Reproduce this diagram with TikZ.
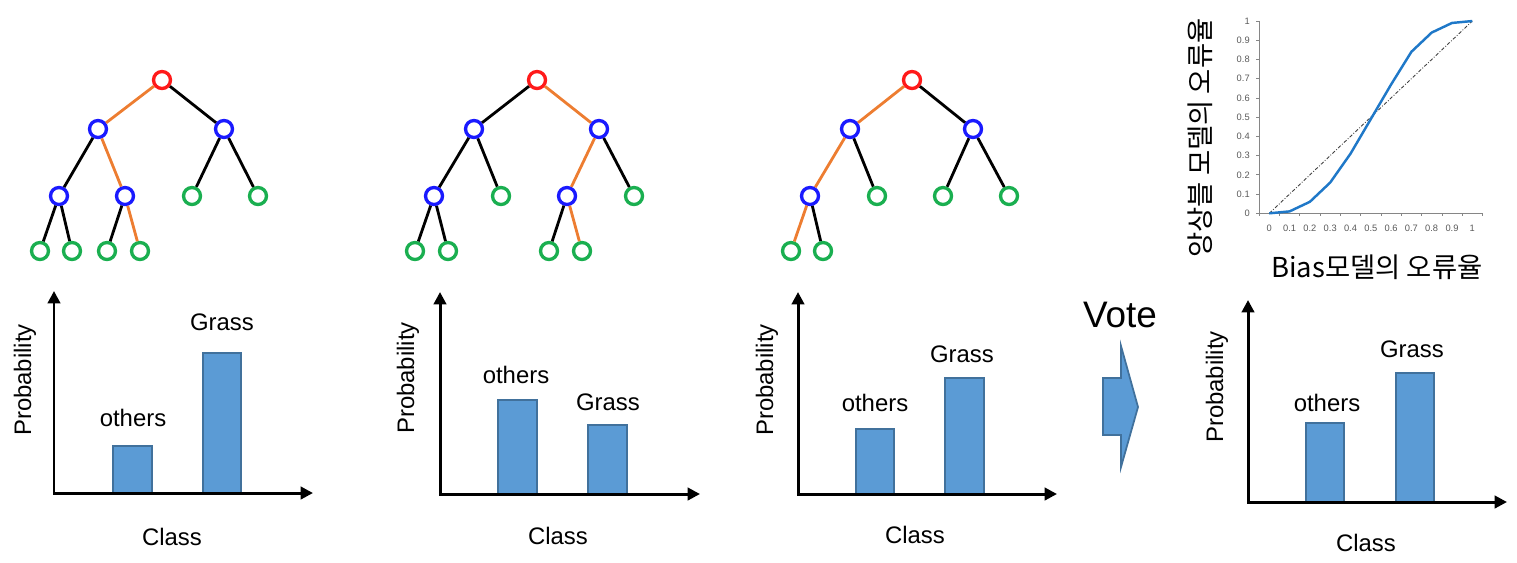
\documentclass[tikz,border=0pt]{standalone}
\usepackage{fontspec}
\setmainfont{Liberation Sans}
\newfontfamily\krfont{Noto Sans CJK KR}
\usetikzlibrary{arrows.meta}
\definecolor{nred}{HTML}{FF1A1A}
\definecolor{nblue}{HTML}{1A1AFF}
\definecolor{ngreen}{HTML}{1AAF50}
\definecolor{eorange}{HTML}{ED7D31}
\definecolor{barfill}{HTML}{5B9BD5}
\definecolor{barline}{HTML}{41719C}
\definecolor{curveblue}{HTML}{1F78C8}
\definecolor{tickgray}{HTML}{595959}
\definecolor{axgray}{HTML}{868686}
\begin{document}
\begin{tikzpicture}[x=0.02cm,y=-0.02cm,
  tn/.style={circle,draw,line width=1.9pt,minimum size=0.34cm,inner sep=0pt,fill=white},
  rootnode/.style={tn,draw=nred},
  innode/.style={tn,draw=nblue},
  leafnode/.style={tn,draw=ngreen},
  tedge/.style={line width=1.6pt,black},
  hot/.style={line width=1.6pt,eorange},
  axisline/.style={line width=1.7pt,black,{Triangle[length=7pt,width=7pt]}-{Triangle[length=7pt,width=7pt]}},
  barbox/.style={fill=barfill,draw=barline,line width=1pt},
  lbl/.style={font=\fontsize{13.6}{16}\selectfont,inner sep=0pt},
  tick/.style={font=\fontsize{5.3}{6}\selectfont,text=tickgray,inner sep=0pt},
  krlbl/.style={font=\krfont\fontsize{15.6}{18}\selectfont,inner sep=0pt}]
\useasboundingbox (0,0) rectangle (1517,562);

% ---------- Tree 1 ----------
\node[rootnode] (a0) at (162,80) {};
\node[innode] (a1) at (98,129) {};
\node[innode] (a2) at (224,129) {};
\node[innode] (a3) at (59,196) {};
\node[innode] (a4) at (125,196) {};
\node[leafnode] (a5) at (192,196) {};
\node[leafnode] (a6) at (258,196) {};
\node[leafnode] (a7) at (40,251) {};
\node[leafnode] (a8) at (72,251) {};
\node[leafnode] (a9) at (107,251) {};
\node[leafnode] (a10) at (140,251) {};
\draw[hot] (a0) -- (a1);
\draw[tedge] (a0) -- (a2);
\draw[tedge] (a1) -- (a3);
\draw[hot] (a1) -- (a4);
\draw[tedge] (a2) -- (a5);
\draw[tedge] (a2) -- (a6);
\draw[tedge] (a3) -- (a7);
\draw[tedge] (a3) -- (a8);
\draw[tedge] (a4) -- (a9);
\draw[hot] (a4) -- (a10);

% ---------- Tree 2 ----------
\node[rootnode] (b0) at (537,80) {};
\node[innode] (b1) at (474,129) {};
\node[innode] (b2) at (599,129) {};
\node[innode] (b3) at (434,196) {};
\node[leafnode] (b4) at (501,196) {};
\node[innode] (b5) at (567,196) {};
\node[leafnode] (b6) at (634,196) {};
\node[leafnode] (b7) at (415,251) {};
\node[leafnode] (b8) at (448,251) {};
\node[leafnode] (b9) at (549,251) {};
\node[leafnode] (b10) at (582,251) {};
\draw[tedge] (b0) -- (b1);
\draw[hot] (b0) -- (b2);
\draw[tedge] (b1) -- (b3);
\draw[tedge] (b1) -- (b4);
\draw[hot] (b2) -- (b5);
\draw[tedge] (b2) -- (b6);
\draw[tedge] (b3) -- (b7);
\draw[tedge] (b3) -- (b8);
\draw[tedge] (b5) -- (b9);
\draw[hot] (b5) -- (b10);

% ---------- Tree 3 ----------
\node[rootnode] (c0) at (912,80) {};
\node[innode] (c1) at (850,129) {};
\node[innode] (c2) at (973,129) {};
\node[innode] (c3) at (810,196) {};
\node[leafnode] (c4) at (877,196) {};
\node[leafnode] (c5) at (943,196) {};
\node[leafnode] (c6) at (1009,196) {};
\node[leafnode] (c7) at (791,251) {};
\node[leafnode] (c8) at (823,251) {};
\draw[hot] (c0) -- (c1);
\draw[tedge] (c0) -- (c2);
\draw[hot] (c1) -- (c3);
\draw[tedge] (c1) -- (c4);
\draw[tedge] (c2) -- (c5);
\draw[tedge] (c2) -- (c6);
\draw[hot] (c3) -- (c7);
\draw[tedge] (c3) -- (c8);

% ---------- Chart 1 ----------
\coordinate (t1) at (54,291);
\coordinate (r1) at (313,493);
\draw[barbox] (113,493) rectangle (152,446);
\draw[barbox] (203,493) rectangle (241,353);
\draw[axisline] (t1) |- (r1);
\node[lbl] (oth1) at (133,418) {others};
\node[lbl] (gr1) at (222,322) {Grass};
\node[lbl,rotate=90] (pr1) at (25,380) {Probability};
\node[lbl] (cl1) at (172,537) {Class};

% ---------- Chart 2 ----------
\coordinate (t2) at (440,292);
\coordinate (r2) at (700,494);
\draw[barbox] (498,494) rectangle (537,400);
\draw[barbox] (588,494) rectangle (627,425);
\draw[axisline] (t2) |- (r2);
\node[lbl] (oth2) at (516,375) {others};
\node[lbl] (gr2) at (608,402) {Grass};
\node[lbl,rotate=90] (pr2) at (408,378) {Probability};
\node[lbl] (cl2) at (558,536) {Class};

% ---------- Chart 3 ----------
\coordinate (t3) at (798,292);
\coordinate (r3) at (1057,494);
\draw[barbox] (856,494) rectangle (894,429);
\draw[barbox] (945,494) rectangle (984,378);
\draw[axisline] (t3) |- (r3);
\node[lbl] (oth3) at (875,403) {others};
\node[lbl] (gr3) at (962,354) {Grass};
\node[lbl,rotate=90] (pr3) at (767,380) {Probability};
\node[lbl] (cl3) at (915,535) {Class};

% ---------- Vote ----------
\node[font=\fontsize{21}{25}\selectfont,inner sep=0pt] (vote) at (1120,315) {Vote};
\draw[barbox] (1103,378) -- (1121,378) -- (1121,346) -- (1138,407) -- (1121,467) -- (1121,435) -- (1103,435) -- cycle;

% ---------- Chart 4 ----------
\coordinate (t4) at (1248,300);
\coordinate (r4) at (1507,502);
\draw[barbox] (1306,502) rectangle (1344,423);
\draw[barbox] (1396,502) rectangle (1434,373);
\draw[axisline] (t4) |- (r4);
\node[lbl] (oth4) at (1327,403) {others};
\node[lbl] (gr4) at (1412,349) {Grass};
\node[lbl,rotate=90] (pr4) at (1217,387) {Probability};
\node[lbl] (cl4) at (1366,543) {Class};

% ---------- Error-rate plot ----------
\begin{scope}[shift={(1269.3,213.3)},x=4.06cm,y=3.846cm]
  \draw[axgray,line width=0.5pt] (-0.0493,1) -- (-0.0493,0) -- (1.046,0);
  \foreach \k in {0,...,10} {
    \draw[axgray,line width=0.5pt] (-0.0643,\k/10) -- (-0.0493,\k/10);
  }
  \foreach \k in {0,...,11} {
    \draw[axgray,line width=0.5pt] (-0.0493+\k/10,0) -- (-0.0493+\k/10,-0.0156);
  }
  \foreach \v/\t [count=\i] in {0/0,0.1/0.1,0.2/0.2,0.3/0.3,0.4/0.4,0.5/0.5,0.6/0.6,0.7/0.7,0.8/0.8,0.9/0.9,1/1} {
    \node[tick,anchor=east] (yl\i) at (-0.095,\v) {\t};
    \node[tick] (xl\i) at (\v,-0.078) {\t};
  }
  \draw[black!75,line width=0.5pt,dash pattern=on 2pt off 1pt on 0.5pt off 1pt] (0,0) -- (1,1);
  \draw[curveblue,line width=1.4pt,line join=round]
    plot coordinates {(0,0) (0.1,0.01) (0.2,0.06) (0.3,0.16) (0.4,0.31) (0.5,0.49) (0.6,0.67) (0.7,0.84) (0.8,0.94) (0.9,0.99) (1,1)};
\end{scope}
\node[krlbl] (xlab) at (1377,267) {Bias모델의 오류율};
\node[krlbl,rotate=90] (ylab) at (1200,138) {앙상블 모델의 오류율};
\end{tikzpicture}
\end{document}
